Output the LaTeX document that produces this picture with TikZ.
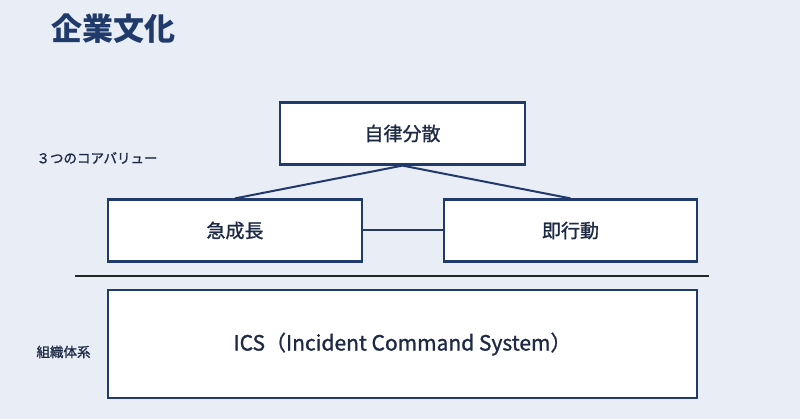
\documentclass[tikz,border=0pt]{standalone}
\usepackage{fontspec}
\setmainfont{Noto Sans CJK JP}
\newfontfamily\med[FakeBold=1.2]{Noto Sans CJK JP}
\definecolor{bg}{HTML}{E9EDF5}
\definecolor{navy}{HTML}{1F3A6B}
\definecolor{txt}{HTML}{1E2A45}
\begin{document}
\begin{tikzpicture}[x=1pt,y=-1pt,
  vbox/.style={draw=navy,line width=2.2pt,fill=white,minimum height=62pt,font=\med\fontsize{19}{22}\selectfont\color{txt},inner sep=0pt},
  side/.style={font=\med\fontsize{13.5}{15}\selectfont\color{txt},anchor=west},
  link/.style={draw=navy,line width=2pt}]
\fill[bg] (0,0) rectangle (800,419);
\useasboundingbox (0,0) rectangle (800,419);
\node[anchor=west,font=\fontsize{31}{34}\selectfont\bfseries,text=navy] (title) at (48,29) {企業文化};
\node[vbox,minimum width=245pt] (top) at (402.5,133.5) {自律分散};
\node[vbox,minimum width=254pt] (l) at (235,230.5) {急成長};
\node[vbox,minimum width=253pt] (r) at (570.5,230.5) {即行動};
\node[vbox,minimum width=589pt,minimum height=108pt,font=\med\fontsize{21}{24}\selectfont\color{txt}] (ics) at (402.5,344) {ICS（Incident Command System）};
\node[side] (cv) at (33,158) {３つのコアバリュー};
\node[side] (org) at (33,352) {組織体系};
\coordinate (sepL) at (75,276);
\coordinate (sepR) at (709,276);
\draw[link] (top.south) -- (l.north);
\draw[link] (top.south) -- (r.north);
\draw[link] (l.east) -- (r.west);
\draw[line width=1.8pt,black!85] (sepL) -- (sepR);
\end{tikzpicture}
\end{document}
